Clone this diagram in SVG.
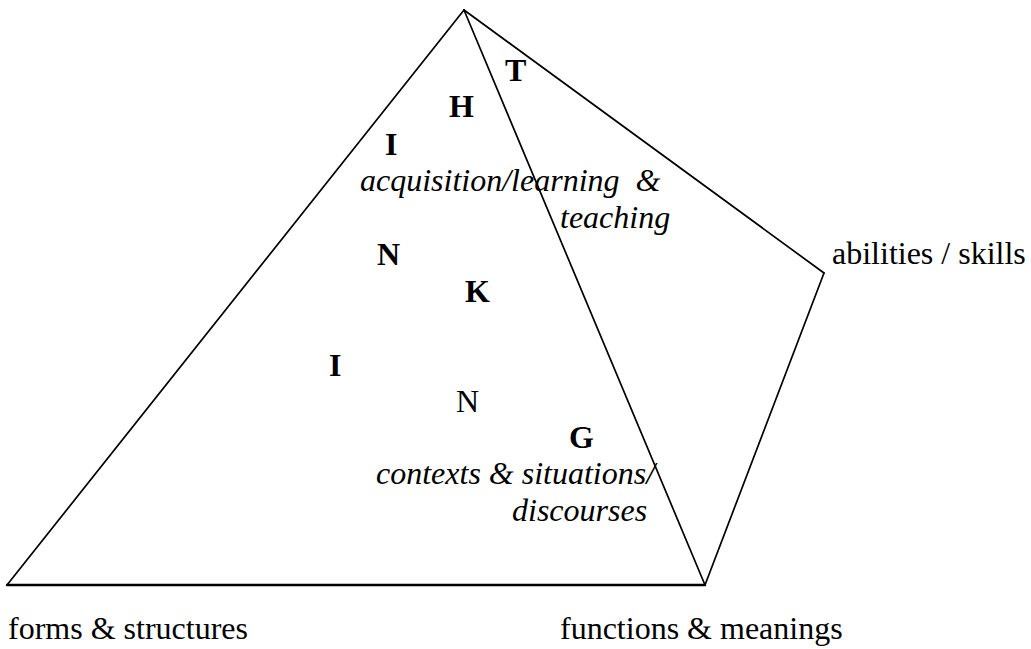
<svg xmlns="http://www.w3.org/2000/svg" width="1031" height="649" viewBox="0 0 1031 649">
  <style>
    .edge { fill: none; stroke: #000; stroke-width: 1.7; stroke-linecap: round; stroke-linejoin: miter; }
    .base { stroke-width: 2.4; }
    text { font-family: "Liberation Serif", "Times New Roman", serif; font-size: 32px; fill: #000; }
    .letter { font-weight: bold; }
    .plain { font-weight: normal; }
    .face { font-style: italic; }
  </style>
  <rect width="1031" height="649" fill="#fff"/>

  <!-- pyramid edges -->
  <g id="edges">
    <line class="edge" x1="464" y1="10" x2="7" y2="585"/>
    <line class="edge base" x1="7" y1="585" x2="705" y2="585"/>
    <line class="edge" x1="464" y1="10" x2="705" y2="585"/>
    <line class="edge" x1="464" y1="10" x2="824" y2="273"/>
    <line class="edge" x1="824" y1="273" x2="705" y2="585"/>
  </g>

  <!-- corner labels -->
  <g id="forms-structures"><text x="8" y="639">forms &amp; structures</text></g>
  <g id="functions-meanings"><text x="560" y="639">functions &amp; meanings</text></g>
  <g id="abilities-skills"><text x="832" y="264">abilities / skills</text></g>

  <!-- face labels -->
  <g id="acquisition-teaching">
    <text class="face" x="360" y="191" xml:space="preserve">acquisition/learning  &amp;</text>
    <text class="face" x="560" y="228">teaching</text>
  </g>
  <g id="contexts-discourses">
    <text class="face" x="376" y="484">contexts &amp; situations/</text>
    <text class="face" x="512" y="521">discourses</text>
  </g>

  <!-- THINKING down the front face -->
  <g id="thinking">
    <text class="letter" x="505" y="81">T</text>
    <text class="letter" x="449" y="117">H</text>
    <text class="letter" x="385" y="155">I</text>
    <text class="letter" x="377" y="265">N</text>
    <text class="letter" x="465" y="302">K</text>
    <text class="letter" x="329" y="376">I</text>
    <text class="plain" x="456" y="412">N</text>
    <text class="letter" x="569" y="448">G</text>
  </g>
</svg>
